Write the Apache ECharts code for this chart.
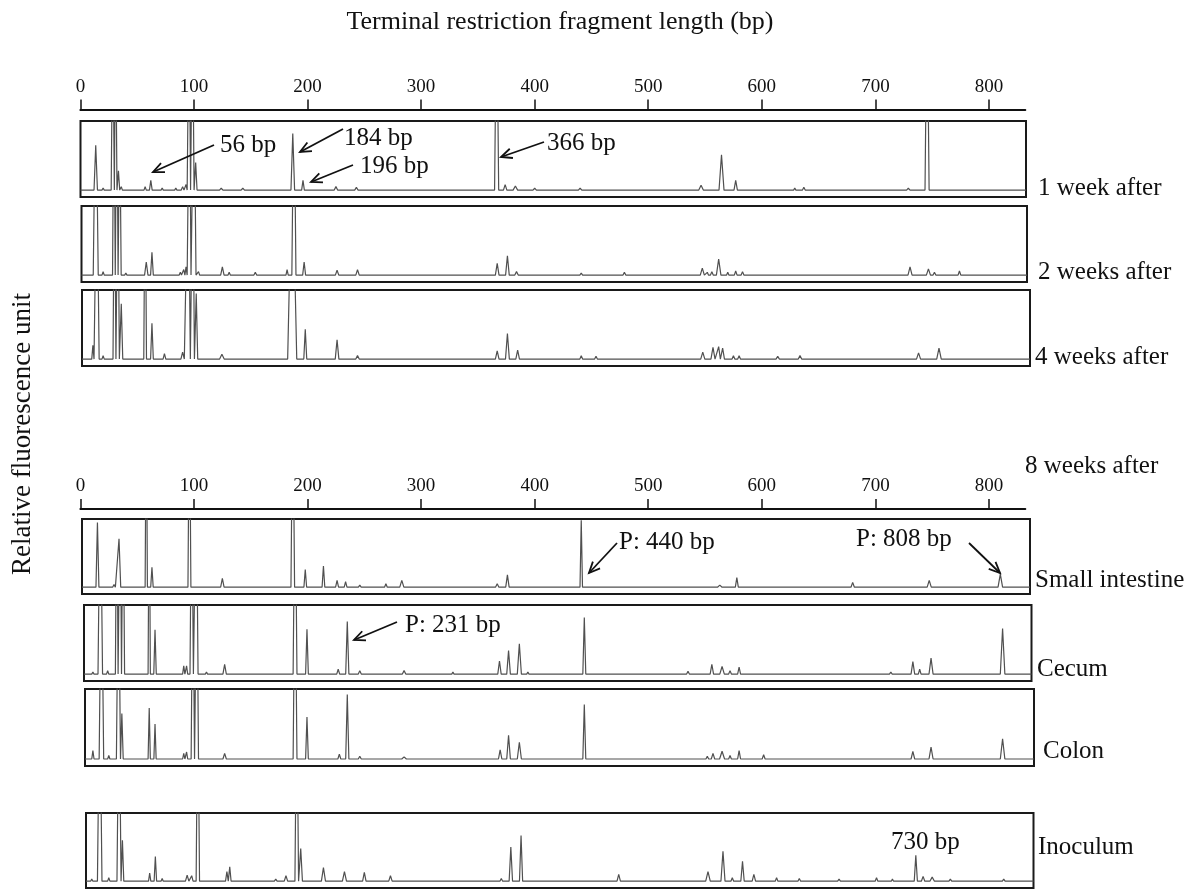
<!DOCTYPE html>
<html>
<head>
<meta charset="utf-8">
<script src="https://cdn.jsdelivr.net/npm/echarts@6/dist/echarts.min.js"></script>
<style>
  html, body { margin: 0; padding: 0; background: #fff; }
  #chart { width: 1191px; height: 889px; }
</style>
</head>
<body>
<div id="chart"></div>
<script>
// 横轴刻度 (bp)
var tickValues = [0, 100, 200, 300, 400, 500, 600, 700, 800];
var axisMax = 832;

var panelNames = ['1 week after', '2 weeks after', '4 weeks after',
  'Small intestine', 'Cecum', 'Colon', 'Inoculum'];

// 峰: [片段长度 bp, 相对高度 (100 = 框顶), 半宽 bp]
var week1 = [[13.5,65,1.5],[20,3,1],[28.5,260,1.4],[31,260,1.2],[33.5,28,1.1],[36,5,1],
  [57,5,1],[62,14,1.2],[72,3,1],[84,3,1],[90,5,1.2],[93,8,1],[95.7,280,1.3],[98.7,280,1.4],[101.5,40,1.2],
  [124,3,1.5],[143,3,1.5],[160,1.5,1],[187,82,1.6],[196,14,1.2],[216,2,1],[225,5,1.5],[243,4,1.5],
  [290,1,1],[310,1.5,1],[320,1,1],[366.5,300,1.8],[374,8,1.5],[383,6,2],[400,3,1.5],[440,3,1.5],
  [470,1.5,1],[500,1,1],[546.5,7,2],[564.5,51,2.2],[577,14,1.5],[610,2,1.5],[625,2,1],[629,3,1],
  [637,4,1.2],[690,1,1],[729,3,1.5],[745.5,300,1.8],[769,1,1],[780,1,1]];
var week2 = [[13.5,300,2.2],[20,5,1],[29.5,300,1.2],[32,300,1.2],[34.6,250,1.3],[40,3,1],
  [58,19,1.5],[63,33,1.2],[88,4,1],[91,8,1],[93,12,1],[96,300,1.4],[100,300,1.8],[104,5,1],
  [125,12,1.5],[131,4,1],[154,4,1.2],[182,8,1],[188,300,1.8],[197,19,1.3],[226,7,1.5],[244,8,1.5],
  [283,1,1.5],[330,1,1],[367,17,1.6],[376,28,1.6],[384,5,1.5],[420,1,1],[441,3,1.2],[446,2,1],
  [479,4,1.2],[510,1,1],[547.6,10,1.8],[552,4,1],[556,5,1.2],[562,23,2],[570,4,1],[577,6,1.2],
  [583,5,1.2],[596,1,1],[627,2,1.5],[680,1,1],[730.5,12,1.8],[746.7,9,1.8],[752,4,1.2],[774,6,1.2],[800,1,1]];
var week4 = [[11,20,1],[14.5,300,2],[20,5,1],[30,300,1.3],[33,300,1.3],[36,80,1.3],
  [57,300,1.2],[63,52,1.2],[74,8,1.2],[90,10,1.5],[95,300,1.8],[99,300,1.4],[102,95,1.3],
  [124.6,7,2],[186.5,300,4],[198,43,1.3],[226,28,1.6],[244,5,1.5],[270,1.5,1],[285,1.5,1],
  [367,12,1.6],[376,37,1.7],[385,13,1.6],[441,5,1.2],[454,4,1.2],[548,10,1.8],[557,17,1.8],
  [562,18,1.5],[565.5,16,1.6],[575,5,1.2],[580,5,1.2],[614,4,1.5],[633.6,5,1.5],[680,1,1],
  [738,9,1.8],[756,16,2],[795,1,1],[805,1,1]];
var smallIntestine = [[15,95,1.3],[22,2,1],[29.6,4,1.2],[34,71,1.5],[58,300,1],[63,29,1.1],[96,300,1.3],
  [125,13,1.5],[150,1,1],[170,1,1],[187,300,1.6],[198,26,1.2],[214,31,1.2],[226,10,1.3],[233.5,8,1.2],
  [246,3,1.2],[269,5,1.2],[283,10,1.8],[330,1,1],[367,5,1.5],[376,18,1.5],[395,1,1],[441,98,1.1],
  [563,3,2],[578,14,1.3],[658,2,1],[680,7,1.5],[720,1,1],[747.4,10,1.8],[810,19,2],[820,2,1]];
var cecum = [[11,3,1],[17.5,300,2],[24,5,1],[32,300,1.2],[35,300,1.2],[37.6,300,1.3],
  [60.6,300,1],[65.7,64,1.1],[91,12,1],[93.5,12,1],[98,300,1.5],[102,300,1.6],[111,3,1],[127,14,1.5],
  [150,1.5,1],[170,1.5,1],[189,300,1.7],[199.5,65,1.2],[227,7,1.3],[235,76,1.4],[246,5,1.3],
  [263,1.5,1],[275,2,1],[285,5,1.5],[328,3,1],[369,19,1.5],[377,34,1.6],[386.5,44,1.8],[394,3,1],
  [425,1,1],[443.7,82,1.3],[535,4,1.2],[556,14,1.5],[565,11,2],[572,5,1.2],[580,10,1.3],[614,2,1],
  [632,2,1],[681.6,2,1.5],[713.6,3,1.2],[733,18,1.6],[739,7,1.2],[749,23,1.8],[790,1,1],[812,66,2],[828.4,2,1]];
var colon = [[11,12,1],[18.5,300,2],[25,5,1],[33.5,300,1.8],[36.5,65,1.2],[60.6,73,1],[65.7,50,1],
  [91,8,1],[93.5,10,1],[99,300,1.5],[102.5,300,1.5],[127,8,1.5],[189,300,1.7],[199.5,60,1.2],
  [228,7,1.3],[235,92,1.4],[246,4,1.3],[285,3,2],[369.6,13,1.5],[377,34,1.6],[386.5,24,1.8],
  [443.7,78,1.3],[535,2,1.2],[552,4,1.2],[557,8,1.5],[565,11,2.2],[572,5,1.2],[580,12,1.3],
  [601.6,6,1.3],[630,1,1],[733,11,1.6],[749,17,1.8],[812,29,2]];
var inoculum = [[10,3,1],[17,300,2],[25,5,1],[34,300,1.8],[37,60,1.2],[61,12,1],[66,36,1.1],[72,4,1],
  [94,9,1.5],[98,8,1.2],[103.4,300,1.5],[116,2,1],[129,14,1.2],[131.5,21,1.2],[172,3,1.2],[181,8,1.5],
  [190.5,300,1.6],[194,48,1.5],[214,20,1.8],[232.5,14,1.8],[250,13,1.5],[273,8,1.5],[305,1,1],
  [340,1,1],[370.6,4,1.2],[379,50,1.5],[388,67,1.4],[410,1,1],[474,10,1.5],[516,2,1],[532,2,1],
  [552.6,14,2],[565.8,44,1.8],[574,5,1.2],[583,29,1.5],[593,10,1.5],[613,5,1.2],[633,4,1.2],
  [668,3,1.2],[701,5,1.2],[715,3,1],[735.6,38,1.4],[742,7,1.5],[750,6,2],[766,3,1.2],[813,3,1.2]];

var panelPeaks = [week1, week2, week4, smallIntestine, cecum, colon, inoculum];

// 版面 (像素)
var X0 = 80.4, PX = 1.1357;  // 0 bp 的位置, 每 bp 像素
var panelBoxes = [
  {l: 80.5, r: 1026, t: 121, b: 197},
  {l: 81.5, r: 1027, t: 206, b: 282},
  {l: 82, r: 1030, t: 290, b: 366},
  {l: 82, r: 1030, t: 519, b: 594},
  {l: 84, r: 1031.5, t: 605, b: 681},
  {l: 85, r: 1034, t: 689, b: 766},
  {l: 86, r: 1033.5, t: 813, b: 888}
];
var labelPos = [[1038,188],[1038,272],[1035,357],[1035,580],[1037,669],[1043,751],[1038,847]];

var serif = '"Liberation Serif", "DejaVu Serif", serif';

function trace(peaks, xmin, xmax) {
  var pts = [[xmin, 0]];
  peaks.forEach(function (p) {
    var last = pts[pts.length - 1];
    if (p[0] - p[2] <= last[0]) {
      last[0] = Math.min(last[0], p[0] - 0.2);
    } else {
      pts.push([p[0] - p[2], 0]);
    }
    pts.push([p[0], p[1]]);
    pts.push([p[0] + p[2], 0]);
  });
  pts.push([xmax, 0]);
  return pts;
}

var grids = [], xAxes = [], yAxes = [], series = [];

// 两条刻度轴
[107.5, 507].forEach(function (y) {
  var gi = grids.length;
  grids.push({left: X0, width: axisMax * PX, top: y, height: 2});
  xAxes.push({
    gridIndex: gi, type: 'value', position: 'top', min: 0, max: axisMax,
    axisLine: {lineStyle: {color: '#111', width: 2}},
    axisTick: {length: 10, lineStyle: {color: '#111', width: 1.5}, customValues: tickValues},
    axisLabel: {fontFamily: serif, fontSize: 19, color: '#111', margin: 11, customValues: tickValues},
    splitLine: {show: false}
  });
  yAxes.push({gridIndex: gi, show: false, min: 0, max: 1});
});

panelPeaks.forEach(function (peaks, i) {
  var bx = panelBoxes[i];
  var gi = grids.length;
  var xmin = (bx.l - X0) / PX, xmax = (bx.r - X0) / PX;
  grids.push({
    left: bx.l, width: bx.r - bx.l, top: bx.t, height: bx.b - bx.t,
    show: true, borderColor: '#1a1a1a', borderWidth: 2, backgroundColor: 'transparent'
  });
  xAxes.push({gridIndex: gi, type: 'value', show: false, min: xmin, max: xmax});
  yAxes.push({gridIndex: gi, type: 'value', show: false, min: -10, max: 100});
  series.push({
    name: panelNames[i], type: 'line', xAxisIndex: gi, yAxisIndex: gi,
    data: trace(peaks, xmin, xmax), showSymbol: false, clip: true, z: 1,
    lineStyle: {color: '#505050', width: 1.2}
  });
});

// 注释文字与箭头
var notes = [
  {text: '56 bp', x: 220, y: 145, from: [214, 145], to: [153, 172]},
  {text: '184 bp', x: 344, y: 138, from: [343, 129], to: [300, 152]},
  {text: '196 bp', x: 360, y: 166, from: [353, 165], to: [311, 182]},
  {text: '366 bp', x: 547, y: 143, from: [544, 142], to: [501, 157]},
  {text: 'P: 440 bp', x: 619, y: 542, from: [617, 543], to: [589, 573]},
  {text: 'P: 808 bp', x: 856, y: 539, from: [969, 543], to: [1000, 573]},
  {text: 'P: 231 bp', x: 405, y: 625, from: [397, 622], to: [354, 640]},
  {text: '730 bp', x: 891, y: 842}
];

var graphics = [];
function arrow(a, b) {
  var ang = Math.atan2(b[1] - a[1], b[0] - a[0]), L = 12, s = 0.42;
  graphics.push({type: 'line', shape: {x1: a[0], y1: a[1], x2: b[0], y2: b[1]},
    style: {stroke: '#111', lineWidth: 1.8}, z: 10});
  graphics.push({type: 'polyline', shape: {points: [
      [b[0] - L * Math.cos(ang - s), b[1] - L * Math.sin(ang - s)], b,
      [b[0] - L * Math.cos(ang + s), b[1] - L * Math.sin(ang + s)]]},
    style: {stroke: '#111', lineWidth: 1.8, fill: null}, z: 10});
}
notes.forEach(function (n) {
  graphics.push({type: 'text', x: n.x, y: n.y, z: 10,
    style: {text: n.text, font: '25px ' + serif, fill: '#111', verticalAlign: 'middle'}});
  if (n.from) arrow(n.from, n.to);
});
panelNames.forEach(function (name, i) {
  graphics.push({type: 'text', x: labelPos[i][0], y: labelPos[i][1], z: 10,
    style: {text: name, font: '25px ' + serif, fill: '#111', verticalAlign: 'middle'}});
});
graphics.push({type: 'text', x: 1025, y: 466, z: 10,
  style: {text: '8 weeks after', font: '25px ' + serif, fill: '#111', verticalAlign: 'middle'}});
graphics.push({type: 'text', x: 560, y: 22, z: 10,
  style: {text: 'Terminal restriction fragment length (bp)', font: '26px ' + serif, fill: '#111',
    align: 'center', verticalAlign: 'middle'}});
graphics.push({type: 'text', x: 23, y: 434, rotation: Math.PI / 2, z: 10,
  style: {text: 'Relative fluorescence unit', font: '27px ' + serif, fill: '#111',
    align: 'center', verticalAlign: 'middle'}});

var chart = echarts.init(document.getElementById('chart'));
chart.setOption({
  backgroundColor: '#ffffff',
  animation: false,
  grid: grids,
  xAxis: xAxes,
  yAxis: yAxes,
  series: series,
  graphic: graphics
});
</script>
</body>
</html>
